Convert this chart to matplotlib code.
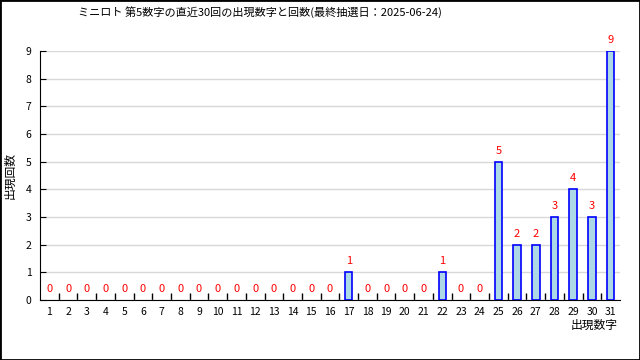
"""ミニロト 第5数字の出現回数チャート"""

import matplotlib
matplotlib.use("Agg")
import matplotlib.pyplot as plt
from matplotlib.patches import Rectangle

plt.rcParams["font.family"] = ["Noto Sans CJK JP", "DejaVu Sans"]

numeros = list(range(1, 32))
conteos = [0] * 16 + [1, 0, 0, 0, 0, 1, 0, 0, 5, 2, 2, 3, 4, 3, 9]
titulo = "ミニロト 第5数字の直近30回の出現数字と回数(最終抽選日：2025-06-24)"

fig = plt.figure(figsize=(6.4, 3.6), dpi=100)
ax = fig.add_axes([40 / 640, 60 / 360, 580 / 640, 249 / 360])

# solo barras con valor > 0 (las de cero no se ven en el original)
xs = [x for x, v in zip(numeros, conteos) if v > 0]
vs = [v for v in conteos if v > 0]
ax.bar(xs, vs, width=0.4, color="lightblue", edgecolor="blue", linewidth=1.2, zorder=3)
for x, v in zip(numeros, conteos):
    ax.text(x, v + 0.4, str(v), ha="center", va="center", fontsize=8, color="red", clip_on=False)

ax.set_xlim(0.5, 31.5)
ax.set_ylim(0, 9)
ax.set_xticks(numeros)
ax.set_xticklabels([str(n) for n in numeros], fontsize=7.5)
ax.set_xticks([n + 0.5 for n in numeros[:-1]], minor=True)
ax.tick_params(axis="x", which="major", length=0, pad=5)
ax.tick_params(axis="x", which="minor", direction="in", length=5, width=1)
ax.set_yticks(range(0, 10))
ax.tick_params(axis="y", direction="in", length=4, labelsize=7.5, pad=6)
ax.grid(axis="y", color="#d8d8d8", linewidth=1, zorder=0)
for s in ["top", "right"]:
    ax.spines[s].set_visible(False)

fig.text(260 / 640, 1 - 12 / 360, titulo, ha="center", va="center", fontsize=8)
fig.text(10 / 640, 1 - 175 / 360, "出現回数", rotation=90, ha="center", va="center", fontsize=8.5)
fig.text(618 / 640, 1 - 325 / 360, "出現数字", ha="right", va="center", fontsize=8.5)

fig.patches.append(Rectangle((0, 0), 1, 1, transform=fig.transFigure, fill=False,
                             edgecolor="black", linewidth=2, figure=fig))

fig.savefig("out.png", dpi=100, facecolor="white")
